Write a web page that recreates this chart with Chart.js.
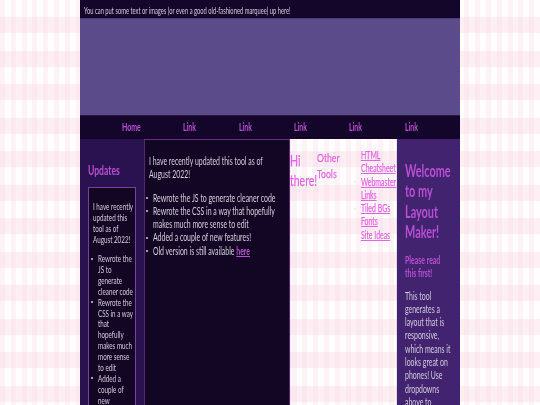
<!DOCTYPE html>
<html>
<head>
<meta charset="utf-8">
<script src="https://cdn.jsdelivr.net/npm/chart.js@4"></script>
<style>
html, body { margin: 0; width: 540px; height: 405px; overflow: hidden; }
body {
  position: relative;
  background-color: #fffdfd;
  background-image:
    repeating-linear-gradient(180deg, transparent 0 17px, rgba(246,205,220,.3) 17px 33.5px),
    repeating-linear-gradient(90deg, rgba(246,205,220,.2) 0 5px, transparent 5px 10.8px);
  font-family: Lato, sans-serif;
}
canvas { position: absolute; }
#rows { left: 80px; top: 0; }
#columns { left: 80px; top: 139px; }
.box { position: absolute; left: 88px; top: 187px; width: 46px; height: 240px; background: #130625; border: 1px solid #7b3f9e; }
.t { position: absolute; white-space: nowrap; transform: scaleX(.66); transform-origin: left top; color: #d4cddd; }
.head { color: #b94fd0; font-weight: 700; }
.pink { color: #e463e6; -webkit-text-stroke: .25px #e463e6; }
a { color: inherit; text-decoration: underline; }
.dot { position: absolute; width: 2px; height: 2px; border-radius: 50%; background: #d4cddd; }
</style>
</head>
<body>
<canvas id="rows" width="380" height="139"></canvas>
<canvas id="columns" width="380" height="290"></canvas>
<div class="box"></div>

<div class="t" style="left:84px;top:5px;font-size:9.5px;line-height:12px;transform:scaleX(.61)">You can put some text or images (or even a good old-fashioned marquee) up here!</div>

<div class="t head" style="left:122px;top:121px;font-size:10.5px;line-height:13px">Home</div>
<div class="t head" style="left:183px;top:121px;font-size:10.5px;line-height:13px">Link</div>
<div class="t head" style="left:239px;top:121px;font-size:10.5px;line-height:13px">Link</div>
<div class="t head" style="left:294px;top:121px;font-size:10.5px;line-height:13px">Link</div>
<div class="t head" style="left:349px;top:121px;font-size:10.5px;line-height:13px">Link</div>
<div class="t head" style="left:405px;top:121px;font-size:10.5px;line-height:13px">Link</div>

<div class="t head" style="left:88px;top:162px;font-size:13px;line-height:16px">Updates</div>
<div class="t" style="left:93px;top:202px;font-size:9.5px;line-height:10.9px">I have recently<br>updated this<br>tool as of<br>August 2022!</div>
<div class="t" style="left:97.5px;top:254px;font-size:9.5px;line-height:10.9px">Rewrote the<br>JS to<br>generate<br>cleaner code<br>Rewrote the<br>CSS in a way<br>that<br>hopefully<br>makes much<br>more sense<br>to edit<br>Added a<br>couple of<br>new</div>
<i class="dot" style="left:91px;top:258px"></i>
<i class="dot" style="left:91px;top:301px"></i>
<i class="dot" style="left:91px;top:377px"></i>

<div class="t" style="left:149px;top:154.5px;font-size:10.5px;line-height:13.5px">I have recently updated this tool as of<br>August 2022!</div>
<div class="t" style="left:153px;top:191.5px;font-size:10.5px;line-height:13.3px">Rewrote the JS to generate cleaner code<br>Rewrote the CSS in a way that hopefully<br>makes much more sense to edit<br>Added a couple of new features!<br>Old version is still available <a class="head">here</a></div>
<i class="dot" style="left:146px;top:197px"></i>
<i class="dot" style="left:146px;top:210px"></i>
<i class="dot" style="left:146px;top:237px"></i>
<i class="dot" style="left:146px;top:250px"></i>

<div class="t pink" style="left:290px;top:150px;font-size:15px;line-height:20px;transform:scaleX(.7)">Hi<br>there!</div>
<div class="t pink" style="left:317px;top:150px;font-size:12px;line-height:16px;transform:scaleX(.72)">Other<br>Tools</div>
<div class="t pink" style="left:360.5px;top:149px;font-size:10.5px;line-height:13.3px"><a>HTML</a><br><a>Cheatsheet</a><br><a>Webmaster</a><br><a>Links</a><br><a>Tiled BGs</a><br><a>Fonts</a><br><a>Site Ideas</a></div>
<i class="dot" style="left:354px;top:181px;background:#f8e4ea"></i>
<i class="dot" style="left:354px;top:208px;background:#f8e4ea"></i>

<div class="t head" style="left:405px;top:161px;font-size:16.5px;line-height:20.3px;transform:scaleX(.66)">Welcome<br>to my<br>Layout<br>Maker!</div>
<div class="t head" style="left:405px;top:253.5px;font-size:10.5px;line-height:13.3px">Please read<br>this first!</div>
<div class="t" style="left:405px;top:289.5px;font-size:10.5px;line-height:13.3px">This tool<br>generates a<br>layout that is<br>responsive,<br>which means it<br>looks great on<br>phones! Use<br>dropdowns<br>above to</div>

<script>
// Page bands top to bottom, sizes
var rowNames = ["Top bar", "Banner", "Nav"];
var rowHeights = [18, 97, 24];
var rowColors = ["#14062b", "#5b4b8a", "#14062b"];

// Columns left to right
var columnNames = ["Sidebar", "Main", "Open", "Welcome"];
var columnWidths = [64, 146, 107, 63];
var columnColors = ["#2a1250", "#130625", "transparent", "#41236f"];
var columnBorders = ["#2a1250", "#7b3f9e", "transparent", "#41236f"];

function hiddenAxis(stacked, max, reverse) {
    return { display: false, stacked: stacked, min: 0, max: max, reverse: reverse };
}

function bandChart(id, horizontal, names, values, colors, borders, total) {
    var sets = names.map(function (name, i) {
        return {
            label: name,
            data: [values[i]],
            backgroundColor: colors[i],
            borderColor: borders ? borders[i] : colors[i],
            borderWidth: borders ? 1 : 0,
            borderSkipped: false,
            barPercentage: 1,
            categoryPercentage: 1
        };
    });
    var valueAxis = hiddenAxis(true, total, !horizontal);
    var bandAxis = { display: false, stacked: true };
    return new Chart(document.getElementById(id).getContext('2d'), {
        type: 'bar',
        data: { labels: ["Page"], datasets: sets },
        options: {
            indexAxis: horizontal ? 'y' : 'x',
            responsive: false,
            animation: false,
            layout: { padding: 0 },
            plugins: { legend: { display: false }, tooltip: { enabled: false } },
            scales: horizontal ? { x: valueAxis, y: bandAxis } : { x: bandAxis, y: valueAxis }
        }
    });
}

bandChart('rows', false, rowNames, rowHeights, rowColors, null, 139);
bandChart('columns', true, columnNames, columnWidths, columnColors, columnBorders, 380);
</script>
</body>
</html>
